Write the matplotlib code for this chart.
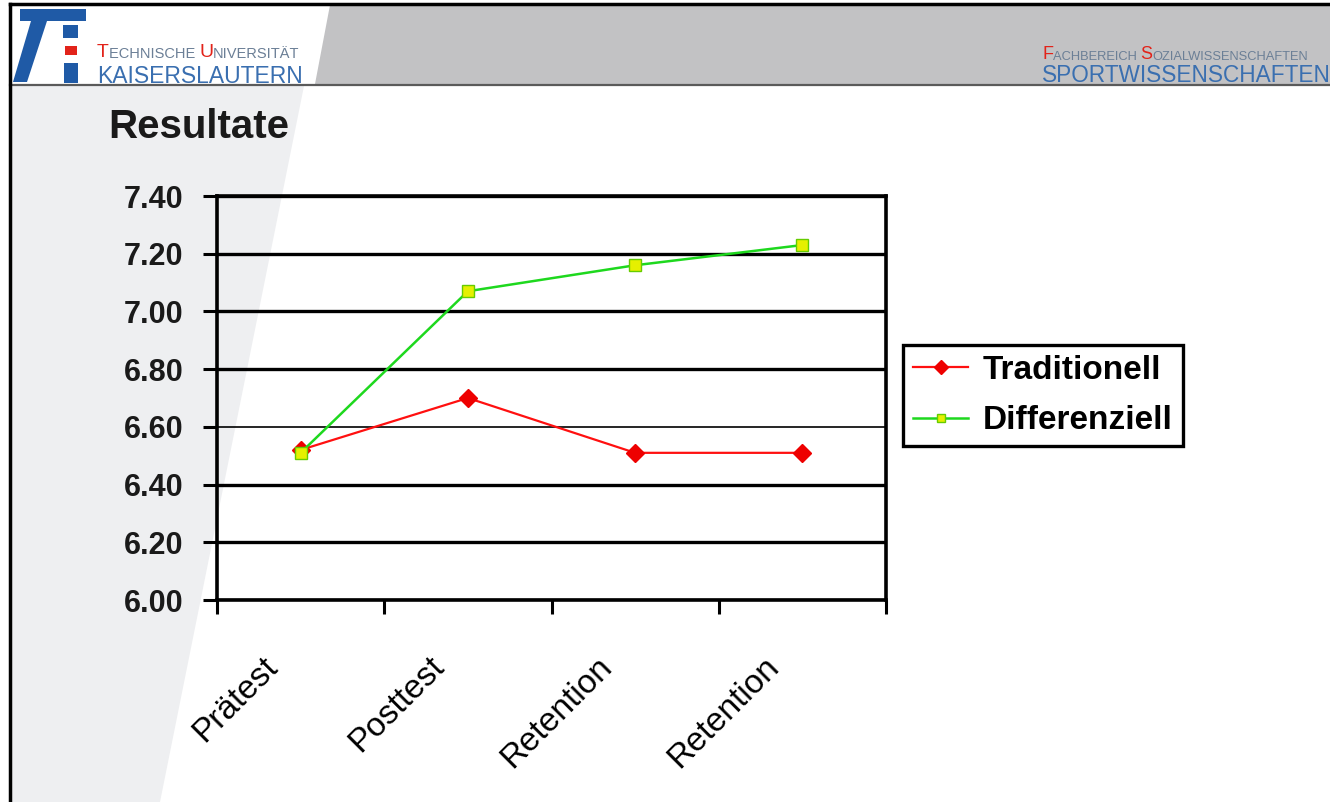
import matplotlib.pyplot as plt
from matplotlib.patches import Polygon, Rectangle
from matplotlib.transforms import ScaledTranslation

# data
categories = ['Prätest', 'Posttest', 'Retention', 'Retention']
traditionell = [6.52, 6.70, 6.51, 6.51]
differenziell = [6.51, 7.07, 7.16, 7.23]
y_ticks = [6.00, 6.20, 6.40, 6.60, 6.80, 7.00, 7.20, 7.40]

W, H = 1330, 802
fig = plt.figure(figsize=(W / 100, H / 100), dpi=100)
fig.patch.set_facecolor('white')

# background slide layer in pixel coordinates
bg = fig.add_axes([0, 0, 1, 1], zorder=0)
bg.set_xlim(0, W)
bg.set_ylim(H, 0)
bg.axis('off')

# header gray band
bg.add_patch(Polygon([(330, 5), (W, 5), (W, 84), (315, 84)], closed=True,
                     facecolor='#c2c2c4', edgecolor='none'))
bg.plot([10, W], [84.5, 84.5], color='#5a5a5a', lw=1.6)
# left light panel
bg.add_patch(Polygon([(10, 86), (304, 86), (160, H), (10, H)], closed=True,
                     facecolor='#eeeff1', edgecolor='none'))
# slide border
bg.plot([10, W], [4, 4], color='black', lw=2.5)
bg.plot([10, 10], [4, H], color='black', lw=2.5)

# logo
blue = '#1f5aa6'
bg.add_patch(Polygon([(20, 9), (86, 9), (86, 21), (20, 21)], closed=True, facecolor=blue, edgecolor='none'))
bg.add_patch(Polygon([(31, 21), (47, 21), (27, 82), (13, 82)], closed=True, facecolor=blue, edgecolor='none'))
bg.add_patch(Rectangle((63, 25), 15, 13, facecolor=blue, edgecolor='none'))
bg.add_patch(Rectangle((65, 46), 12, 9, facecolor='#e2231a', edgecolor='none'))
bg.add_patch(Rectangle((64, 63), 14, 20, facecolor=blue, edgecolor='none'))


def small_caps(x, y, parts, big, small):
    prev = None
    for ch, rest, col in parts:
        if prev is None:
            prev = bg.text(x, y, ch, color='#e2231a', fontsize=big, va='baseline',
                           family='Liberation Sans')
        else:
            prev = bg.annotate(ch, xy=(1, 0), xycoords=prev, color='#e2231a', fontsize=big,
                               va='bottom', family='Liberation Sans')
        prev = bg.annotate(rest, xy=(1, 0), xycoords=prev, color=col, fontsize=small,
                           va='bottom', family='Liberation Sans')


small_caps(97, 57, [('T', 'ECHNISCHE ', '#6b7f96'), ('U', 'NIVERSITÄT', '#6b7f96')], 14, 10.5)
bg.text(97, 83, 'KAISERSLAUTERN', color='#3a6fb0', fontsize=16.5, family='Liberation Sans')
small_caps(1042, 59, [('F', 'ACHBEREICH ', '#6b7f96'), ('S', 'OZIALWISSENSCHAFTEN', '#6b7f96')], 13, 9.3)
bg.text(1042, 82, 'SPORTWISSENSCHAFTEN', color='#3a6fb0', fontsize=16.3, family='Liberation Sans')

# slide title
fig.text(108 / W, 1 - 127 / H, 'Resultate', fontsize=29, fontweight='bold',
         color='#1a1a1a', family='Liberation Sans', va='center')

# chart
ax = fig.add_axes([217 / W, 1 - 600 / H, (886 - 217) / W, (600 - 196) / H], zorder=1)
ax.patch.set_alpha(0)
x = list(range(len(categories)))
ax.plot(x, traditionell, color='#ff1010', lw=1.6, marker='D', markersize=9,
        markerfacecolor='#ee0000', markeredgecolor='#ee0000', label='Traditionell', zorder=3)
ax.plot(x, differenziell, color='#1ed81e', lw=1.8, marker='s', markersize=8,
        markerfacecolor='#e6f000', markeredgecolor='#66cc00', label='Differenziell', zorder=3)

ax.set_xlim(-0.5, len(categories) - 0.5)
ax.set_ylim(6.0, 7.4)
ax.set_yticks(y_ticks)
ax.set_yticklabels([f'{v:.2f}' for v in y_ticks], fontsize=22, fontweight='bold',
                   family='Liberation Sans', color='#1a1a1a')
ax.set_xticks(x)
ax.set_xticklabels(categories, fontsize=24, family='Liberation Sans', rotation=45,
                   ha='right', va='center', rotation_mode='anchor')
ax.set_xticks([i - 0.5 for i in range(len(categories) + 1)], minor=True)
ax.tick_params(axis='x', which='major', length=0, pad=0)
ax.tick_params(axis='x', which='minor', length=10, width=2.2, direction='out', color='black')
ax.tick_params(axis='y', length=10, width=2.2, direction='out', pad=14, color='black')
for lab in ax.get_xticklabels():
    lab.set_transform(lab.get_transform() + ScaledTranslation(-0.28, -0.62, fig.dpi_scale_trans))

ax.grid(axis='y', color='black', lw=2.4, zorder=2)
ax.get_ygridlines()[3].set_linewidth(1.2)
ax.set_axisbelow(False)
for side in ['left', 'bottom', 'right', 'top']:
    ax.spines[side].set_linewidth(2.6)
    ax.spines[side].set_color('black')

leg = ax.legend(loc='upper left', bbox_to_anchor=(903 / W, 1 - 345 / H), bbox_transform=fig.transFigure,
                borderaxespad=0, fancybox=False, framealpha=1, edgecolor='black',
                prop={'family': 'Liberation Sans', 'weight': 'bold', 'size': 24},
                handlelength=1.65, handletextpad=0.45, labelspacing=0.58, borderpad=0.3,
                markerscale=0.8)
leg.get_frame().set_linewidth(2.4)

fig.savefig('out.png', dpi=100)
